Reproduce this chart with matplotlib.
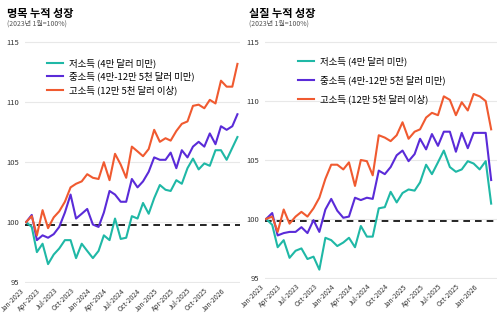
import matplotlib
matplotlib.use("Agg")
import matplotlib.pyplot as plt
import matplotlib.dates as mdates
import pandas as pd

plt.rcParams['font.family'] = ['Noto Sans CJK KR', 'DejaVu Sans']

# monthly, Jan 2023 = 100
months = pd.date_range("2023-01-01", periods=39, freq="MS")

labels = ["저소득 (4만 달러 미만)",
          "중소득 (4만-12만 5천 달러 미만)",
          "고소득 (12만 5천 달러 이상)"]
colors = ["#1fb8a6", "#5a2bd8", "#f05a30"]

# nominal
nom_low = [100.0, 99.6, 97.5, 98.2, 96.5, 97.3, 97.8, 98.5, 98.5, 97.0,
           98.2, 97.6, 97.0, 97.6, 98.9, 98.5, 100.3, 98.6, 98.7, 100.5,
           100.3, 101.6, 100.7, 102.0, 103.1, 102.7, 102.6, 103.5, 103.2, 104.5,
           105.3, 104.4, 104.9, 104.7, 106.0, 106.0, 105.2, 106.2, 107.1]
nom_mid = [100.0, 100.6, 98.5, 98.9, 98.7, 99.0, 99.6, 100.8, 102.3, 100.3,
           100.7, 101.1, 99.8, 99.6, 100.8, 102.6, 102.3, 101.7, 101.7, 103.6,
           102.9, 103.4, 104.2, 105.4, 105.2, 105.2, 105.8, 104.5, 106.0, 105.4,
           106.3, 106.7, 106.3, 107.4, 106.5, 108.0, 107.7, 108.0, 109.0]
nom_high = [100.0, 100.5, 98.9, 101.0, 99.5, 100.4, 100.9, 101.7, 102.9, 103.2,
            103.4, 104.0, 103.7, 103.6, 105.0, 103.5, 105.7, 104.8, 103.7, 106.3,
            105.9, 105.5, 106.1, 107.7, 106.7, 107.0, 106.8, 107.6, 108.2, 108.4,
            109.7, 109.8, 109.5, 110.2, 109.9, 111.8, 111.3, 111.3, 113.2]

# real
real_low = [100.0, 99.5, 97.6, 98.2, 96.7, 97.3, 97.5, 96.6, 96.8, 95.7,
            98.4, 98.2, 97.7, 98.0, 98.4, 97.6, 99.4, 98.5, 98.5, 100.9,
            101.0, 102.3, 101.4, 102.2, 102.5, 102.4, 103.1, 104.6, 103.8, 104.8,
            105.8, 104.4, 104.0, 104.2, 104.9, 104.7, 104.2, 104.9, 101.3]
real_mid = [100.0, 100.5, 98.6, 98.8, 98.9, 98.9, 99.3, 98.8, 99.9, 98.9,
            100.8, 101.7, 100.7, 100.1, 100.2, 101.8, 101.6, 101.8, 101.7, 104.1,
            103.8, 104.4, 105.4, 105.8, 104.9, 105.5, 106.8, 105.9, 107.2, 106.2,
            107.4, 107.4, 105.7, 107.3, 106.0, 107.3, 107.3, 107.3, 103.3]
real_high = [100.0, 100.2, 98.9, 100.8, 99.6, 100.2, 100.6, 100.2, 100.9, 101.8,
             103.4, 104.6, 104.6, 104.2, 104.8, 102.8, 105.0, 104.9, 103.7, 107.1,
             106.9, 106.6, 107.1, 108.2, 106.8, 107.4, 107.6, 108.6, 109.0, 108.8,
             110.4, 110.1, 108.8, 109.9, 109.2, 110.6, 110.4, 110.0, 107.6]

yticks = [95, 100, 105, 110, 115]

fig = plt.figure(figsize=(5.0, 3.26), dpi=100)
ax1 = fig.add_axes([0.05, 0.131, 0.43, 0.776])
ax2 = fig.add_axes([0.53, 0.144, 0.464, 0.763])


def draw_panel(ax, series, spacing, leg_x, leg_y, right_pad):
    for vals, lab, col in zip(series, labels, colors):
        ax.plot(months, vals, color=col, lw=1.5, label=lab)
    ax.axhline(99.8, color="black", lw=1.2, ls=(0, (4, 3)), zorder=1)
    ax.set_ylim(94.9, 116)
    ax.set_yticks(yticks)
    ax.set_xlim(months[0] - pd.Timedelta(days=6), months[-1] + pd.Timedelta(days=right_pad))
    ax.xaxis.set_major_locator(mdates.MonthLocator(bymonth=[1, 4, 7, 10]))
    ax.xaxis.set_major_formatter(mdates.DateFormatter("%b-%Y"))
    ax.grid(axis="y", color="#e8e8e8", lw=0.8)
    ax.set_axisbelow(True)
    for s in ax.spines.values():
        s.set_visible(False)
    ax.tick_params(axis="both", length=0, colors="#333333")
    ax.tick_params(axis="y", labelsize=5.5, pad=4)
    ax.tick_params(axis="x", labelsize=4.9, pad=2.5)
    for t in ax.get_xticklabels():
        t.set_rotation(45)
        t.set_ha("right")
    ax.legend(loc="upper left", bbox_to_anchor=(leg_x, leg_y), frameon=False,
              fontsize=6.8, handlelength=1.7, handletextpad=0.6,
              labelspacing=spacing, borderaxespad=0)


draw_panel(ax1, [nom_low, nom_mid, nom_high], 0.42, 0.085, 0.905, 14)
draw_panel(ax2, [real_low, real_mid, real_high], 0.95, 0.125, 0.91, 30)

fig.text(0.014, 0.96, "명목 누적 성장", fontsize=8, fontweight="bold", va="center")
fig.text(0.014, 0.928, "(2023년 1월=100%)", fontsize=5, color="#555555", va="center")
fig.text(0.498, 0.96, "실질 누적 성장", fontsize=8, fontweight="bold", va="center")
fig.text(0.498, 0.928, "(2023년 1월=100%)", fontsize=5, color="#555555", va="center")

fig.savefig("out.png", dpi=100)
